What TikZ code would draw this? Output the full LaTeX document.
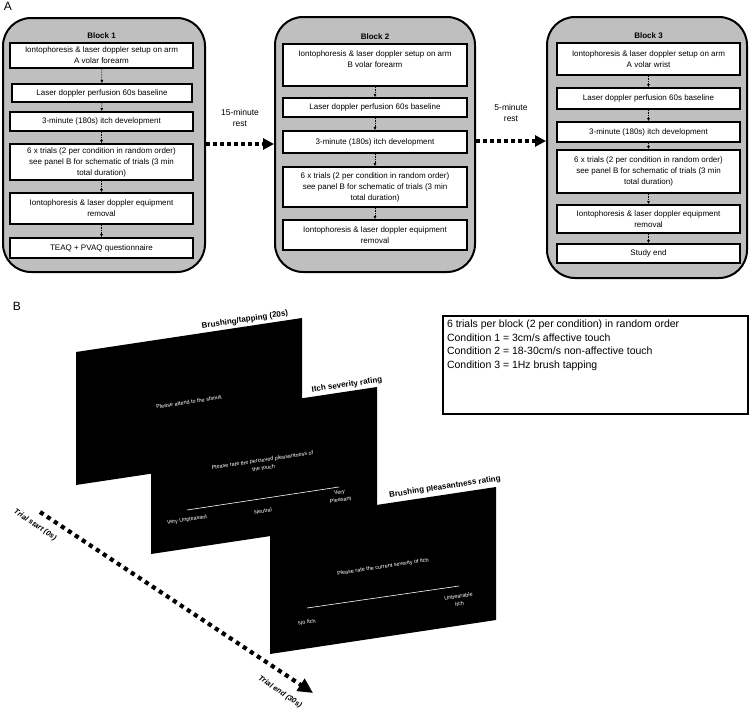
\documentclass[tikz,border=0pt]{standalone}
\usepackage{fontspec}
\setmainfont{Liberation Sans}
\usetikzlibrary{arrows.meta,positioning,calc}
\definecolor{blockgray}{RGB}{191,191,191}
\tikzset{
    blockbg/.style = {draw, line width=2pt, fill=blockgray,
        rounded corners=28pt, inner sep=0pt},
    stage/.style = {draw, rectangle, line width=1.8pt, fill=white,
        inner sep=1pt, align=center, font=\fontsize{8}{11}\selectfont},
    blocktitle/.style = {font=\bfseries\fontsize{8}{10}\selectfont},
    flow/.style = {draw, densely dotted, line width=0.7pt, -{Latex[length=3pt,width=3pt]}},
    rest/.style = {draw, line width=4pt, dash pattern=on 4pt off 3pt,
        -{Triangle[length=11pt,width=11pt]}},
    restlabel/.style = {align=center, font=\fontsize{8.5}{11.5}\selectfont},
    trial/.style = {draw, line width=4.2pt, dash pattern=on 4.2pt off 4.2pt,
        -{Triangle[length=15pt,width=14pt]}},
    triallabel/.style = {rotate=-34, font=\bfseries\itshape\fontsize{7.5}{9}\selectfont},
    scrtext/.style = {text=white, rotate=8.5, align=center, inner sep=0pt,
        font=\fontsize{5.5}{7.5}\selectfont},
    scrtitle/.style = {rotate=8.5, inner sep=0pt, font=\bfseries\fontsize{8}{10}\selectfont},
    scale line/.style = {draw=white, line width=0.6pt},
    condbox/.style = {draw, line width=2pt, inner sep=4pt,
        font=\fontsize{10.5}{13.5}\selectfont},
    panel/.style = {font=\fontsize{12}{14}\selectfont}
}

\begin{document}
\begin{tikzpicture}[x=1pt, y=-1pt]
    \useasboundingbox (0,0) rectangle (750,715);
    \node [panel] (labA) at (8,6) {A};
    \node [panel] (labB) at (17,306) {B};

    % block containers
    \node [blockbg, minimum width=202pt, minimum height=254pt] (blk1) at (104,145) {};
    \node [blockbg, minimum width=200pt, minimum height=255pt] (blk2) at (375,144.5) {};
    \node [blockbg, minimum width=200pt, minimum height=261pt] (blk3) at (647,147.5) {};

    % block 1
    \node [stage, minimum width=183pt, minimum height=25pt] (st1-1) at (101.5,55.5) {Iontophoresis \& laser doppler setup on arm\\A volar forearm};
    \node [stage, minimum width=180pt, minimum height=18pt] (st1-2) at (102,93) {Laser doppler perfusion 60s baseline};
    \node [stage, minimum width=183pt, minimum height=19pt] (st1-3) at (101.5,121.5) {3-minute (180s) itch development};
    \node [stage, minimum width=183pt, minimum height=36pt] (st1-4) at (101.5,162) {6 x trials (2 per condition in random order)\\see panel B for schematic of trials (3 min\\total duration)};
    \node [stage, minimum width=183pt, minimum height=31pt] (st1-5) at (101.5,208.5) {Iontophoresis \& laser doppler equipment\\removal};
    \node [stage, minimum width=183pt, minimum height=20pt] (st1-6) at (101.5,248) {TEAQ + PVAQ questionnaire};
    \node [blocktitle, above=0pt of st1-1] (tit1) {Block 1};

    % block 2
    \node [stage, minimum width=184pt, minimum height=42pt] (st2-1) at (375,65) {Iontophoresis \& laser doppler setup on arm\\B volar forearm\\\mbox{}};
    \node [stage, minimum width=184pt, minimum height=19pt] (st2-2) at (375,107.5) {Laser doppler perfusion 60s baseline};
    \node [stage, minimum width=184pt, minimum height=22pt] (st2-3) at (375,142) {3-minute (180s) itch development};
    \node [stage, minimum width=184pt, minimum height=40pt] (st2-4) at (375,187) {6 x trials (2 per condition in random order)\\see panel B for schematic of trials (3 min\\total duration)};
    \node [stage, minimum width=184pt, minimum height=30pt] (st2-5) at (375,235) {Iontophoresis \& laser doppler equipment\\removal};
    \node [blocktitle, above=0pt of st2-1] (tit2) {Block 2};

    % block 3
    \node [stage, minimum width=183pt, minimum height=32pt] (st3-1) at (648.5,59) {Iontophoresis \& laser doppler setup on arm\\A volar wrist};
    \node [stage, minimum width=183pt, minimum height=21pt] (st3-2) at (648.5,98.5) {Laser doppler perfusion 60s baseline};
    \node [stage, minimum width=183pt, minimum height=20pt] (st3-3) at (648.5,132) {3-minute (180s) itch development};
    \node [stage, minimum width=183pt, minimum height=43pt] (st3-4) at (648.5,171.5) {6 x trials (2 per condition in random order)\\see panel B for schematic of trials (3 min\\total duration)};
    \node [stage, minimum width=183pt, minimum height=28pt] (st3-5) at (648.5,219) {Iontophoresis \& laser doppler equipment\\removal};
    \node [stage, minimum width=183pt, minimum height=19pt] (st3-6) at (648.5,253.5) {Study end};
    \node [blocktitle, above=0pt of st3-1] (tit3) {Block 3};

    \foreach \a [evaluate=\a as \prev using int(\a-1)] in {2,...,6}{
        \draw [flow] (st1-\prev) -- (st1-\a);
        \draw [flow] (st3-\prev) -- (st3-\a);
    }
    \foreach \a [evaluate=\a as \prev using int(\a-1)] in {2,...,5}{
        \draw [flow] (st2-\prev) -- (st2-\a);
    }

    % rests between blocks
    \draw [rest] ([yshift=1pt]blk1.east) -- node [restlabel, above=12pt] {15-minute\\rest} ([yshift=1pt]blk1.east -| blk2.west);
    \draw [rest] ([yshift=3.5pt]blk2.east) -- node [restlabel, above=14pt] {5-minute\\rest} ([yshift=3.5pt]blk2.east -| blk3.west);

    % panel B screens
    \foreach \x/\y [count=\i] in {76/352, 151/421, 270/521}{
        \coordinate (scr\i) at (\x,\y);
        \fill [black] (scr\i) -- ++(226,-34) -- ++(0,133) -- ++(-226,34) -- cycle;
    }
    \node [scrtitle] (tt1) at (245,320) {Brushing/tapping (20s)};
    \node [scrtitle] (tt2) at (347,385) {Itch severity rating};
    \node [scrtitle] (tt3) at (445,487) {Brushing pleasantness rating};

    \node [scrtext] (q1) at (189,402) {Please attend to the stimuli};
    \node [scrtext, font=\fontsize{5.5}{8}\selectfont] (q2) at (263,464) {Please rate the percieved pleasantness of\\the touch};
    \draw [scale line] (187,510) -- (339,487);
    \node [scrtext] (q2a) at (187,520) {Very Unpleasant};
    \node [scrtext] (q2b) at (263,511) {Neutral};
    \node [scrtext] (q2c) at (340,496) {Very\\Pleasant};
    \node [scrtext] (q3) at (383,567) {Please rate the current severity of itch};
    \draw [scale line] (307,608) -- (459,586);
    \node [scrtext] (q3a) at (307,622) {No Itch};
    \node [scrtext] (q3b) at (459,600) {Unbearable\\Itch};

    % trial timeline
    \coordinate (tstart) at (40,512);
    \coordinate (tend) at (313,693);
    \draw [trial] (tstart) -- (tend);
    \node [triallabel] (lstart) at ($(tstart)+(-5,13)$) {Trial start (0s)};
    \node [triallabel] (lend) at ($(tend)+(-33,-1)$) {Trial end (30s)};

    \node [condbox, anchor=north west] (cond) at (442,315) {\parbox[t][90pt][t]{297pt}{%
        6 trials per block (2 per condition) in random order\\
        Condition 1 = 3cm/s affective touch\\
        Condition 2 = 18-30cm/s non-affective touch\\
        Condition 3 = 1Hz brush tapping}};
\end{tikzpicture}
\end{document}
